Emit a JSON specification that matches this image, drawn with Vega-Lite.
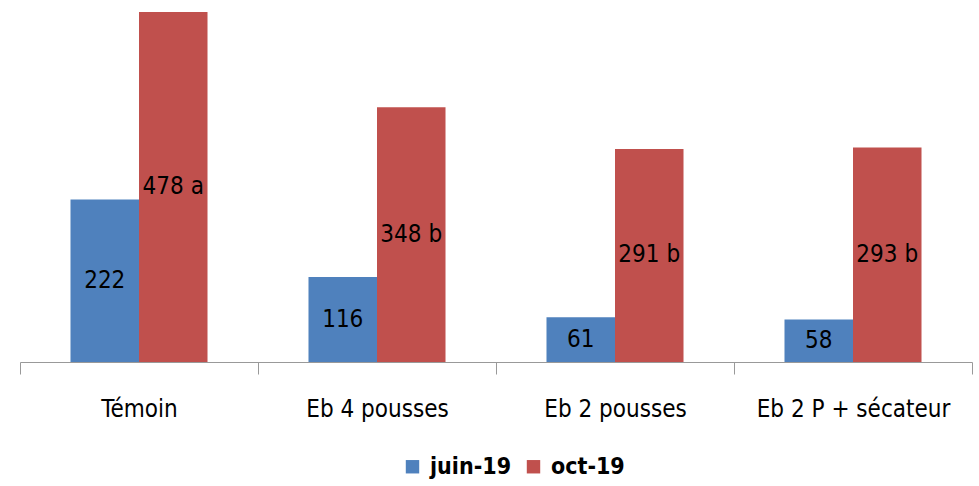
{
  "$schema": "https://vega.github.io/schema/vega-lite/v6.json",
  "width": 952,
  "height": 350,
  "padding": {"left": 19, "top": 12, "right": 8, "bottom": 5},
  "background": "white",
  "config": {"view": {"stroke": null}, "font": "DejaVu Sans Condensed"},
  "data": {
    "values": [
      {"cat": "Témoin", "serie": "juin-19", "value": 222, "label": "222"},
      {"cat": "Témoin", "serie": "oct-19", "value": 478, "label": "478 a"},
      {"cat": "Eb 4 pousses", "serie": "juin-19", "value": 116, "label": "116"},
      {"cat": "Eb 4 pousses", "serie": "oct-19", "value": 348, "label": "348 b"},
      {"cat": "Eb 2 pousses", "serie": "juin-19", "value": 61, "label": "61"},
      {"cat": "Eb 2 pousses", "serie": "oct-19", "value": 291, "label": "291 b"},
      {"cat": "Eb 2 P + sécateur", "serie": "juin-19", "value": 58, "label": "58"},
      {"cat": "Eb 2 P + sécateur", "serie": "oct-19", "value": 293, "label": "293 b"}
    ]
  },
  "encoding": {
    "x": {
      "field": "cat", "type": "nominal", "sort": null,
      "scale": {"paddingInner": 0, "paddingOuter": 0},
      "axis": {
        "title": null, "labelAngle": 0, "tickBand": "extent", "labelLimit": 0,
        "domainColor": "#999999", "tickColor": "#999999", "tickSize": 12,
        "labelFontSize": 24, "labelColor": "#000000", "labelPadding": 23,
        "labelFont": "DejaVu Sans Condensed"
      }
    },
    "xOffset": {"field": "serie", "type": "nominal", "scale": {"paddingInner": 0, "paddingOuter": 0.737}}
  },
  "layer": [
    {
      "mark": {"type": "bar"},
      "encoding": {
        "y": {"field": "value", "type": "quantitative", "scale": {"domain": [0, 478], "nice": false}, "axis": null},
        "color": {
          "field": "serie", "type": "nominal",
          "scale": {"domain": ["juin-19", "oct-19"], "range": ["#4F81BD", "#C0504D"]},
          "legend": {
            "title": null, "orient": "none", "legendX": 381, "legendY": 443, "direction": "horizontal",
            "symbolType": "square", "symbolSize": 180, "symbolStrokeWidth": 0,
            "labelFontSize": 23, "labelFontWeight": "bold", "labelFont": "DejaVu Sans Condensed",
            "labelColor": "#000000", "columnPadding": 10, "labelOffset": 6
          }
        }
      }
    },
    {
      "mark": {"type": "text", "fontSize": 24, "color": "#000000", "font": "DejaVu Sans Condensed", "baseline": "middle"},
      "encoding": {
        "y": {"field": "value", "type": "quantitative", "scale": {"domain": [0, 956], "nice": false}, "axis": null},
        "text": {"field": "label"}
      }
    }
  ],
  "resolve": {"scale": {"y": "independent"}}
}
